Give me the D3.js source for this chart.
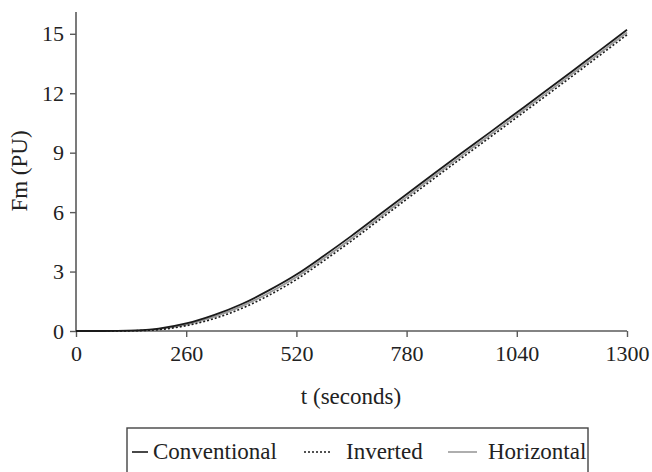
<!DOCTYPE html>
<html><head><meta charset="utf-8">
<script src="https://cdn.jsdelivr.net/npm/d3@7"></script>
<style>body{margin:0;background:#fff}svg{display:block}text,.tick text{font-family:"Liberation Serif","Times New Roman",serif !important;fill:#222}</style>
</head><body><svg id="c" width="652" height="472"></svg>
<script>
const times = [0,65,130,195,260,325,390,455,520,585,650,715,780,845,910,975,1040,1105,1170,1235,1300];
const conventional = [0,0,0.02,0.12,0.38,0.8,1.35,2.05,2.85,3.8,4.8,5.85,6.9,7.95,8.98,10.0,11.03,12.06,13.1,14.15,15.2];
const horizontal   = [0,0,0.015,0.095,0.32,0.71,1.24,1.92,2.72,3.67,4.67,5.72,6.77,7.82,8.85,9.87,10.9,11.93,12.97,14.02,15.07];
const inverted     = [0,0,0.01,0.07,0.27,0.62,1.13,1.8,2.6,3.55,4.55,5.6,6.65,7.7,8.73,9.75,10.78,11.81,12.85,13.9,14.95];
const xTicks = [0,260,520,780,1040,1300];
const yTicks = [0,3,6,9,12,15];
const seriesNames = ["Conventional","Inverted","Horizontal"];

const FONT = '"Liberation Serif","Times New Roman",serif';
const svg = d3.select("#c");
const x = d3.scaleLinear().domain([0,1300]).range([76,627]);
const y = d3.scaleLinear().domain([0,16.1]).range([331,12]);
const axisColor = "#5a5a5a";

const gx = svg.append("g").attr("transform","translate(0,331)")
  .call(d3.axisBottom(x).tickValues(xTicks).tickSize(6).tickPadding(8).tickFormat(d3.format("d")));
const gy = svg.append("g").attr("transform","translate(76,0)")
  .call(d3.axisLeft(y).tickValues(yTicks).tickSize(6).tickPadding(6).tickFormat(d3.format("d")));
[gx,gy].forEach(g=>{
  g.attr("font-family",FONT).attr("font-size",22);
  g.select(".domain").attr("stroke",axisColor).attr("stroke-width",1.6);
  g.selectAll(".tick line").attr("stroke",axisColor).attr("stroke-width",1.4);
  g.selectAll(".tick text").style("font-size","22px").attr("fill","#222");
});
gx.select(".domain").attr("d","M76,0H627");
gy.select(".domain").attr("d","M0,331V12");

svg.append("text").attr("x",351).attr("y",404).attr("text-anchor","middle").style("font-size","23px").text("t (seconds)");
svg.append("text").attr("transform","translate(27,171) rotate(-90)").attr("text-anchor","middle").style("font-size","23px").text("Fm (PU)");

const styles = {
  Conventional:{stroke:"#1a1a1a",width:1.8,dash:null},
  Horizontal:{stroke:"#9a9a9a",width:1.8,dash:null},
  Inverted:{stroke:"#1a1a1a",width:1.6,dash:"2,2"}
};
const data = {Conventional:conventional,Inverted:inverted,Horizontal:horizontal};
const line = d3.line().x((d,i)=>x(times[i])).y(d=>y(d)).curve(d3.curveMonotoneX);
["Horizontal","Inverted","Conventional"].forEach(n=>{
  svg.append("path").datum(data[n]).attr("fill","none")
    .attr("stroke",styles[n].stroke).attr("stroke-width",styles[n].width)
    .attr("stroke-dasharray",styles[n].dash).attr("d",line);
});

// legend
svg.append("rect").attr("x",127).attr("y",428).attr("width",461).attr("height",50)
  .attr("fill","none").attr("stroke","#444").attr("stroke-width",1.4);
const legX = [[132,148,153],[304,331,346],[448,477,488]];
seriesNames.forEach((n,i)=>{
  const [a,b,t] = legX[i];
  svg.append("line").attr("x1",a).attr("x2",b).attr("y1",452).attr("y2",452)
    .attr("stroke",styles[n].stroke).attr("stroke-width",styles[n].width-0.2).attr("stroke-dasharray",styles[n].dash);
  svg.append("text").attr("x",t).attr("y",459).style("font-size","23px").text(n);
});
</script></body></html>
